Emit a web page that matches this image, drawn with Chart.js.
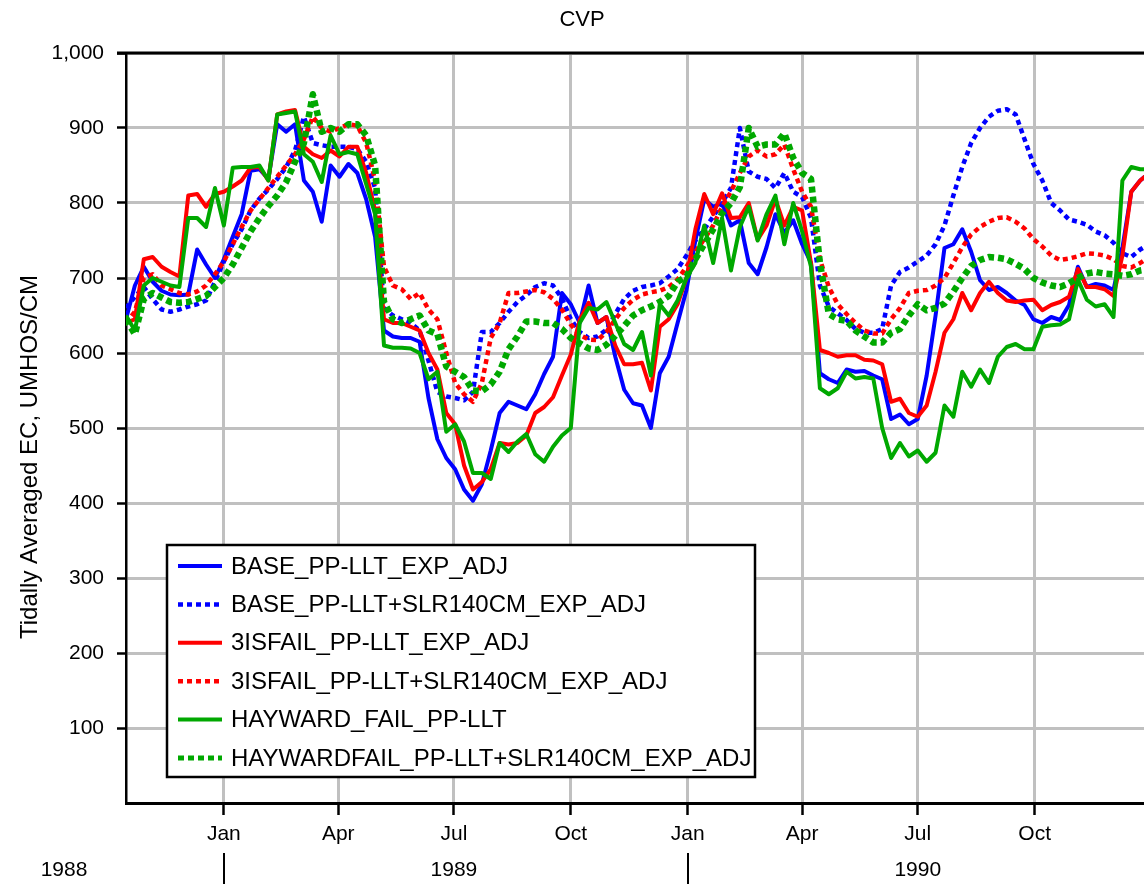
<!DOCTYPE html>
<html>
<head>
<meta charset="utf-8">
<script src="https://cdn.jsdelivr.net/npm/chart.js@4.4.0/dist/chart.umd.min.js"></script>
<style>
html,body{margin:0;padding:0;background:#fff;overflow:hidden}
#wrap{width:1144px;height:884px;position:relative}
</style>
</head>
<body>
<div id="wrap"><canvas id="c" width="1144" height="884"></canvas></div>
<script>
// x values: days counted from 1 Jan 1989 (weekly samples)
const dayOffsets = [-77,-70,-63,-56,-49,-42,-35,-28,-21,-14,-7,0,7,14,21,28,35,42,49,56,63,70,77,84,91,98,105,112,119,126,133,140,147,154,161,168,175,182,189,196,203,210,217,224,231,238,245,252,259,266,273,280,287,294,301,308,315,322,329,336,343,350,357,364,371,378,385,392,399,406,413,420,427,434,441,448,455,462,469,476,483,490,497,504,511,518,525,532,539,546,553,560,567,574,581,588,595,602,609,616,623,630,637,644,651,658,665,672,679,686,693,700,707,714,721,728];

const seriesLabels = [
  'BASE_PP-LLT_EXP_ADJ',
  'BASE_PP-LLT+SLR140CM_EXP_ADJ',
  '3ISFAIL_PP-LLT_EXP_ADJ',
  '3ISFAIL_PP-LLT+SLR140CM_EXP_ADJ',
  'HAYWARD_FAIL_PP-LLT',
  'HAYWARDFAIL_PP-LLT+SLR140CM_EXP_ADJ'
];

const baseEC = [
  645,690,715,695,683,678,677,678,738,718,
  700,725,755,785,843,845,832,905,895,905,
  830,815,775,850,835,852,840,805,755,630,
  622,620,620,615,540,485,460,445,418,403,
  425,470,520,535,530,525,545,572,595,680,
  665,640,690,640,648,595,551,533,530,500,
  573,595,640,684,750,805,795,800,770,777,
  720,705,741,785,760,777,745,720,573,565,
  560,578,575,576,570,565,512,518,505,512,
  570,650,740,745,765,735,697,684,688,680,
  670,664,645,640,648,644,664,715,688,692,
  690,684,740,815,830,840];

const baseSlrEC = [
  660,675,688,672,658,655,658,662,665,670,
  695,722,745,765,790,806,818,832,848,870,
  915,880,877,875,875,875,872,855,820,660,
  650,645,640,630,590,548,542,540,537,548,
  628,628,640,655,668,677,688,693,690,673,
  645,628,620,622,631,652,672,683,688,690,
  693,702,712,730,750,765,782,800,820,900,
  842,835,832,820,840,815,808,780,690,662,
  653,644,632,627,627,632,690,708,714,722,
  730,745,770,810,848,880,900,915,923,925,
  918,885,852,830,800,790,778,775,771,762,
  757,747,733,728,738,745];

const fail3isEC = [
  640,645,725,728,715,708,702,810,812,795,
  812,815,822,830,847,848,830,918,922,924,
  875,865,860,870,862,875,875,840,790,645,
  640,640,635,630,600,578,520,505,450,418,
  428,445,480,478,480,490,520,528,541,570,
  598,644,667,640,648,610,585,585,587,550,
  635,645,665,700,765,812,785,813,780,781,
  800,751,770,805,770,795,790,720,604,600,
  595,597,597,591,590,585,535,539,520,515,
  530,575,627,645,680,657,680,695,680,670,
  668,670,671,657,664,668,675,712,688,688,
  685,676,730,815,830,840];

const fail3isSlrEC = [
  640,655,700,705,690,685,680,678,682,690,
  705,722,745,768,790,805,820,835,850,865,
  885,915,900,895,900,905,903,880,830,715,
  690,685,672,680,658,645,600,560,545,535,
  560,620,640,680,680,682,684,681,672,658,
  638,624,618,617,628,645,660,671,678,681,
  683,688,698,715,735,752,770,795,815,840,
  862,870,862,865,878,845,815,795,725,688,
  665,652,640,630,626,626,645,660,680,683,
  684,690,700,720,741,758,768,775,780,781,
  775,766,752,742,730,724,726,729,733,732,
  730,725,716,714,720,728];

const haywardEC = [
  650,630,690,700,695,690,688,780,780,768,
  820,770,847,848,848,850,830,918,920,922,
  865,855,828,890,865,868,865,825,785,610,
  607,607,606,600,565,575,495,505,482,440,
  440,432,480,468,482,492,465,455,475,490,
  500,640,660,658,668,640,612,604,628,570,
  665,650,670,700,720,770,720,780,710,768,
  795,750,785,810,745,800,762,715,553,545,
  553,575,566,568,566,500,460,480,462,470,
  455,467,530,515,575,555,578,560,595,608,
  612,605,605,635,637,638,645,698,671,662,
  665,648,830,848,845,845];

const haywardSlrEC = [
  645,625,672,680,674,668,667,668,672,676,
  688,700,718,740,762,780,796,810,828,855,
  880,945,895,900,895,905,905,890,850,668,
  645,640,645,650,630,625,582,575,568,550,
  549,558,575,605,622,642,642,640,640,632,
  620,613,606,604,611,623,636,650,657,662,
  668,676,695,702,725,745,765,786,800,821,
  900,875,878,878,893,860,840,832,720,652,
  645,643,630,622,614,614,627,632,650,665,
  657,660,666,682,700,716,724,728,727,725,
  719,712,700,694,690,688,693,700,706,708,
  706,705,703,705,710,712];

const monthTickDays = [0, 90, 181, 273, 365, 455, 546, 638];
const monthTickLabels = ['Jan', 'Apr', 'Jul', 'Oct', 'Jan', 'Apr', 'Jul', 'Oct'];
const yearLabels = ['1988', '1989', '1990'];
const yearLabelDays = [null, 181, 546];
const yearBoundaryDays = [0, 365];
const chartTitle = 'CVP';
const yAxisTitle = 'Tidally Averaged EC, UMHOS/CM';

const FONT = "'Liberation Sans', Arial, sans-serif";
Chart.defaults.font.family = FONT;
Chart.defaults.color = '#000';

const BLUE = '#0000ff', RED = '#ff0000', GREEN = '#00a800';

function pts(arr) { return dayOffsets.map((d, i) => ({x: d, y: arr[i]})); }

const datasets = [
  {label: seriesLabels[0], data: pts(baseEC), borderColor: BLUE, borderWidth: 4, borderDash: [], order: 6},
  {label: seriesLabels[1], data: pts(baseSlrEC), borderColor: BLUE, borderWidth: 4.5, borderDash: [5, 4], order: 5},
  {label: seriesLabels[2], data: pts(fail3isEC), borderColor: RED, borderWidth: 4, borderDash: [], order: 4},
  {label: seriesLabels[3], data: pts(fail3isSlrEC), borderColor: RED, borderWidth: 4.5, borderDash: [5, 4], order: 3},
  {label: seriesLabels[4], data: pts(haywardEC), borderColor: GREEN, borderWidth: 4, borderDash: [], order: 2},
  {label: seriesLabels[5], data: pts(haywardSlrEC), borderColor: GREEN, borderWidth: 6.5, borderDash: [6, 4], order: 1}
].map(d => Object.assign(d, {pointRadius: 0, tension: 0, fill: false, borderCapStyle: 'butt', borderJoinStyle: 'round'}));

const decor = {
  id: 'decor',
  beforeDraw(chart) {
    const ctx = chart.ctx;
    ctx.save(); ctx.fillStyle = '#fff'; ctx.fillRect(0, 0, chart.width, chart.height); ctx.restore();
  },
  afterDatasetsDraw(chart) {
    const ctx = chart.ctx, a = chart.chartArea;
    ctx.save();
    // top frame line
    ctx.strokeStyle = '#000'; ctx.lineWidth = 3;
    ctx.beginPath(); ctx.moveTo(a.left - 9, a.top); ctx.lineTo(a.right, a.top); ctx.stroke();
    // legend box
    const lx = a.left + 41, ly = a.top + 492, lw = 588, lh = 232;
    ctx.fillStyle = '#fff'; ctx.fillRect(lx, ly, lw, lh);
    ctx.strokeStyle = '#000'; ctx.lineWidth = 2.5; ctx.strokeRect(lx, ly, lw, lh);
    chart.data.datasets.forEach((ds, i) => {
      const y = ly + 21 + i * 38.4;
      ctx.save();
      ctx.strokeStyle = ds.borderColor;
      ctx.lineWidth = Math.min(ds.borderWidth, 5);
      ctx.setLineDash(ds.borderDash || []);
      ctx.beginPath(); ctx.moveTo(lx + 11, y); ctx.lineTo(lx + 55, y); ctx.stroke();
      ctx.restore();
      ctx.fillStyle = '#000';
      ctx.font = '24px ' + FONT;
      ctx.textBaseline = 'middle'; ctx.textAlign = 'left';
      ctx.fillText(ds.label, lx + 64, y + 1);
    });
    ctx.restore();
  },
  afterDraw(chart) {
    const ctx = chart.ctx, a = chart.chartArea, xs = chart.scales.x;
    ctx.save();
    ctx.fillStyle = '#000';
    // title
    ctx.font = '22px ' + FONT;
    ctx.textAlign = 'center'; ctx.textBaseline = 'middle';
    ctx.fillText(chartTitle, 582, 20);
    // y axis title
    ctx.save();
    ctx.translate(30, a.top + 404);
    ctx.rotate(-Math.PI / 2);
    ctx.font = '24px ' + FONT;
    ctx.fillText(yAxisTitle, 0, 0);
    ctx.restore();
    // year row
    ctx.font = '21px ' + FONT;
    const yy = a.bottom + 67;
    yearLabels.forEach((lab, i) => {
      const x = yearLabelDays[i] === null ? a.left - 62 : xs.getPixelForValue(yearLabelDays[i]);
      ctx.fillText(lab, x, yy);
    });
    ctx.strokeStyle = '#000'; ctx.lineWidth = 2;
    yearBoundaryDays.forEach(d => {
      const x = Math.round(xs.getPixelForValue(d));
      ctx.beginPath(); ctx.moveTo(x, a.bottom + 50); ctx.lineTo(x, chart.height); ctx.stroke();
    });
    ctx.restore();
  }
};

new Chart(document.getElementById('c'), {
  type: 'line',
  data: {datasets},
  options: {
    responsive: false,
    devicePixelRatio: 1,
    animation: false,
    layout: {padding: {top: 53, left: 0, right: 0, bottom: 0}},
    plugins: {legend: {display: false}, title: {display: false}, tooltip: {enabled: false}},
    scales: {
      x: {
        type: 'linear',
        min: -77, max: 724,
        afterBuildTicks: s => { s.ticks = monthTickDays.map(v => ({value: v})); },
        afterFit: s => { s.height = 81; },
        ticks: {autoSkip: false, maxRotation: 0, padding: 7, font: {size: 21},
          callback: (v, i) => monthTickLabels[i]},
        grid: {color: '#c0c0c0', lineWidth: 3, tickColor: '#000', tickLength: 12, tickWidth: 2.5},
        border: {display: true, color: '#000', width: 3}
      },
      y: {
        min: 0, max: 1000,
        afterFit: s => { s.width = 126; },
        ticks: {stepSize: 100, padding: 13, font: {size: 21},
          callback: v => v === 0 ? '' : v.toLocaleString('en-US')},
        grid: {color: '#c0c0c0', lineWidth: 3, tickLength: 9, tickWidth: 2.5,
          tickColor: c => (c.tick && c.tick.value === 0) ? 'rgba(0,0,0,0)' : '#000'},
        border: {display: true, color: '#000', width: 2.5}
      }
    }
  },
  plugins: [decor]
});
</script>
</body>
</html>
